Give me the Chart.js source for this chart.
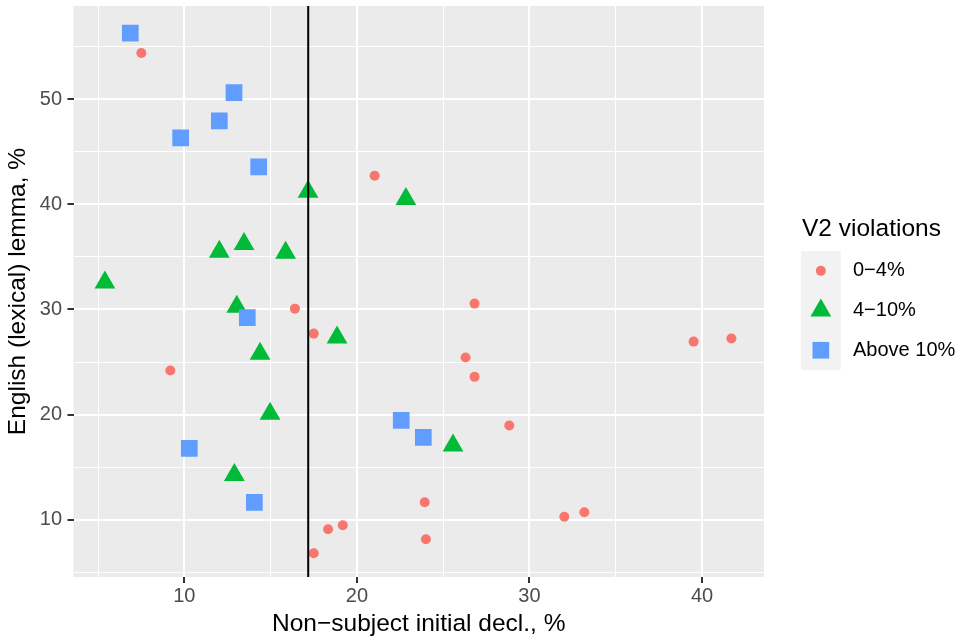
<!DOCTYPE html>
<html><head><meta charset="utf-8">
<script src="https://cdn.jsdelivr.net/npm/chart.js@4/dist/chart.umd.min.js"></script>
<style>html,body{margin:0;padding:0;background:#fff}</style>
</head><body>
<canvas id="c" width="962" height="640"></canvas>
<script>
// ---- text ----
const xTitle = 'Non\u2212subject initial decl., %';
const yTitle = 'English (lexical) lemma, %';
const legendTitle = 'V2 violations';
const groupLabels = ['0\u22124%', '4\u221210%', 'Above 10%'];

// ---- data: 0−4% ----
const lowX = [7.51, 16.41, 21.03, 9.19, 17.50, 17.50, 26.82, 26.30, 26.82, 39.51, 41.70, 28.83, 23.93, 32.02, 33.18, 18.33, 19.18, 24.00];
const lowY = [54.37, 30.08, 42.72, 24.20, 27.71, 6.84, 30.56, 25.44, 23.60, 26.95, 27.24, 18.98, 11.68, 10.31, 10.73, 9.12, 9.50, 8.17];
// ---- data: 4−10% ----
const midX = [17.17, 22.84, 12.03, 13.46, 15.87, 5.40, 13.04, 14.39, 14.97, 12.90, 18.85, 25.57];
const midY = [41.20, 40.51, 35.49, 36.23, 35.39, 32.56, 30.27, 25.80, 20.10, 14.27, 27.34, 17.07];
// ---- data: Above 10% ----
const highX = [6.87, 12.88, 12.03, 9.79, 14.31, 13.65, 10.29, 14.06, 22.57, 23.85];
const highY = [56.27, 50.60, 47.92, 46.31, 43.56, 29.23, 16.80, 11.68, 19.46, 17.85];

// reference line (x value)
const refLineX = 17.18;

// ticks
const xTicks = [5, 10, 15, 20, 25, 30, 35, 40];
const yTicks = [5, 10, 15, 20, 25, 30, 35, 40, 45, 50, 55];
const xLimits = [3.58, 43.59];
const yLimits = [4.58, 58.84];

const FONT = '"Liberation Sans", Arial, Helvetica, sans-serif';
const toPts = (xs, ys) => xs.map((x, i) => ({x: x, y: ys[i]}));
const isMajor = v => v % 10 === 0;

const datasets = [
  {label: groupLabels[2], data: toPts(highX, highY), pointStyle: 'rect', pointRadius: 11.8, backgroundColor: '#619CFF', order: 0},
  {label: groupLabels[1], data: toPts(midX, midY), pointStyle: 'triangle', pointRadius: 12, backgroundColor: '#00BA38', order: 1},
  {label: groupLabels[0], data: toPts(lowX, lowY), pointStyle: 'circle', pointRadius: 5, backgroundColor: '#F8766D', order: 2}
].map(d => Object.assign(d, {borderWidth: 0, pointBorderWidth: 0, pointHoverRadius: d.pointRadius}));

const panelBg = {
  id: 'panelBg',
  beforeDraw(chart) {
    const {ctx, chartArea: a} = chart;
    ctx.save();
    ctx.fillStyle = '#EBEBEB';
    ctx.fillRect(a.left, a.top, a.right - a.left, a.bottom - a.top);
    ctx.restore();
  }
};

const refLine = {
  id: 'refLine',
  afterDatasetsDraw(chart) {
    const {ctx, chartArea: a, scales} = chart;
    const px = scales.x.getPixelForValue(refLineX);
    ctx.save();
    ctx.strokeStyle = '#000000';
    ctx.lineWidth = 2;
    ctx.beginPath();
    ctx.moveTo(px, a.top);
    ctx.lineTo(px, a.bottom);
    ctx.stroke();
    ctx.restore();
  }
};

const ggLegend = {
  id: 'ggLegend',
  afterDraw(chart) {
    const ctx = chart.ctx;
    const a = chart.chartArea;
    const left = a.right + 37;
    const keyTop = 251, keyW = 39.7, keyH = 39.7;
    ctx.save();
    ctx.fillStyle = '#000000';
    ctx.font = '24.5px ' + FONT;
    ctx.textAlign = 'left';
    ctx.textBaseline = 'alphabetic';
    ctx.fillText(legendTitle, left + 1, 236);
    ctx.fillStyle = '#F2F2F2';
    ctx.fillRect(left, keyTop, keyW, keyH * 3);
    const order = [2, 1, 0];
    order.forEach((di, i) => {
      const ds = chart.data.datasets[di];
      const cx = left + keyW / 2, cy = keyTop + keyH * (i + 0.5);
      ctx.fillStyle = ds.backgroundColor;
      ctx.strokeStyle = ds.backgroundColor;
      Chart.helpers.drawPoint(ctx, {pointStyle: ds.pointStyle, radius: ds.pointRadius, borderWidth: 0, rotation: 0}, cx, cy);
      ctx.fillStyle = '#000000';
      ctx.font = '20px ' + FONT;
      ctx.textBaseline = 'middle';
      ctx.fillText(ds.label, left + 52, cy);
    });
    ctx.restore();
  }
};

new Chart(document.getElementById('c'), {
  type: 'scatter',
  data: {datasets},
  plugins: [panelBg, refLine, ggLegend],
  options: {
    responsive: false,
    animation: false,
    events: [],
    layout: {autoPadding: false, padding: {left: 0, top: 6, right: 198, bottom: 0}},
    plugins: {legend: {display: false}, tooltip: {enabled: false}},
    scales: {
      x: {
        type: 'linear', min: xLimits[0], max: xLimits[1],
        afterBuildTicks: s => { s.ticks = xTicks.map(v => ({value: v})); },
        afterFit: s => { s.height = 63; s.paddingLeft = 0; s.paddingRight = 0; },
        border: {display: false},
        grid: {
          color: '#FFFFFF',
          lineWidth: c => (c.tick && isMajor(c.tick.value)) ? 2 : 1,
          drawTicks: true, tickLength: 6,
          tickColor: c => (c.tick && isMajor(c.tick.value)) ? '#333333' : 'rgba(0,0,0,0)',
          tickWidth: 2
        },
        ticks: {
          autoSkip: false, maxRotation: 0, padding: 1.4,
          color: '#4D4D4D', font: {family: FONT, size: 20},
          callback: v => isMajor(v) ? String(v) : ''
        },
        title: {display: true, text: xTitle, color: '#000000', font: {family: FONT, size: 24.5, lineHeight: 1.2}, padding: {top: 0, bottom: 1.5}}
      },
      y: {
        type: 'linear', min: yLimits[0], max: yLimits[1],
        afterBuildTicks: s => { s.ticks = yTicks.map(v => ({value: v})); },
        afterFit: s => { s.width = 73.5; s.paddingTop = 0; s.paddingBottom = 0; },
        border: {display: false},
        grid: {
          color: '#FFFFFF',
          lineWidth: c => (c.tick && isMajor(c.tick.value)) ? 2 : 1,
          drawTicks: true, tickLength: 6,
          tickColor: c => (c.tick && isMajor(c.tick.value)) ? '#333333' : 'rgba(0,0,0,0)',
          tickWidth: 2
        },
        ticks: {
          autoSkip: false, padding: 5.5,
          color: '#4D4D4D', font: {family: FONT, size: 20},
          callback: v => isMajor(v) ? String(v) : ''
        },
        title: {display: true, text: yTitle, color: '#000000', font: {family: FONT, size: 24.5, lineHeight: 1.2}, padding: {top: 4, bottom: 0}}
      }
    }
  }
});
</script>
</body></html>
